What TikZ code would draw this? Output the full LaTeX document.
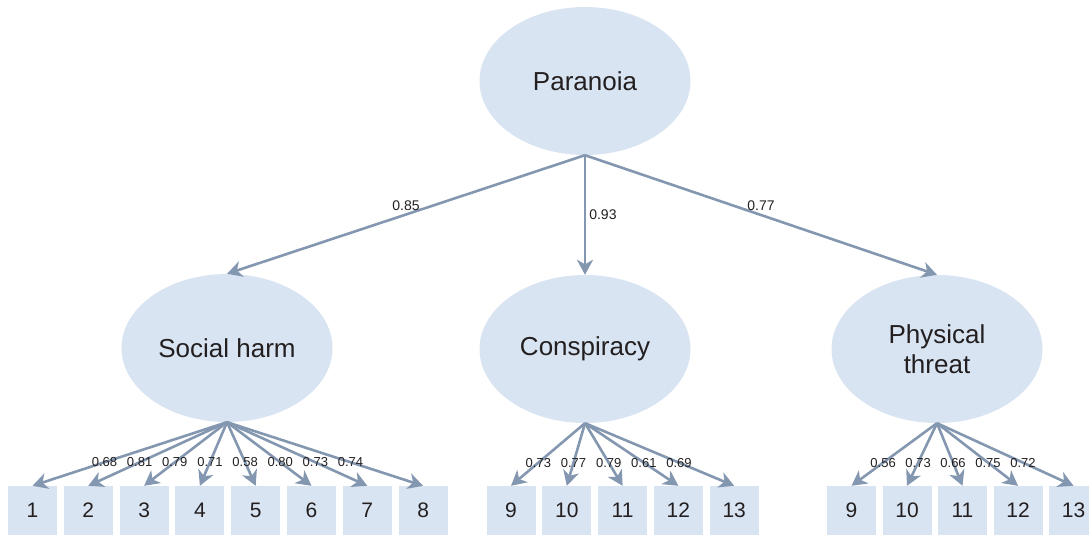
\documentclass[tikz,border=0pt]{standalone}
\usepackage{fontspec}
\setmainfont{Liberation Sans}
\usetikzlibrary{shapes.geometric,arrows.meta,calc}
\definecolor{fillc}{HTML}{D9E4F2}
\definecolor{linec}{HTML}{8497B0}
\definecolor{txtc}{HTML}{231F20}
\begin{document}
\begin{tikzpicture}[x=1pt,y=-1pt,
  latent/.style={ellipse,fill=fillc,minimum width=211pt,minimum height=148pt,inner sep=0pt,text=txtc,font=\fontsize{26}{30}\selectfont,align=center},
  item/.style={rectangle,fill=fillc,minimum width=49pt,minimum height=49pt,inner sep=0pt,text=txtc,font=\fontsize{21}{25}\selectfont},
  loading/.style={draw=linec,line width=2.6pt,-{Stealth[length=15pt,width=16pt,inset=4.5pt]}},
  coef/.style={font=\fontsize{13}{15}\selectfont,text=txtc,inner sep=1pt},
  topcoef/.style={font=\fontsize{14}{16}\selectfont,text=txtc,inner sep=3pt},
]
\useasboundingbox (0,0) rectangle (1089,535);
\clip (0,0) rectangle (1089,535);

% latent factors
\node[latent] (P) at (585,81) {Paranoia};
\node[latent] (S) at (227,348) {Social harm};
\node[latent] (C) at (585,349) {Conspiracy};
\node[latent] (T) at (937,349) {Physical\\threat};

% items
\foreach \i [count=\k from 0] in {1,...,8}
  \node[item] (s\i) at ({32.5+55.8*\k},510.5) {\i};
\foreach \i [count=\k from 0] in {9,...,13}
  \node[item] (c\i) at ({511+55.8*\k},510.5) {\i};
\foreach \i [count=\k from 0] in {9,...,13}
  \node[item] (t\i) at ({851.5+55.5*\k},510.5) {\i};

% second-order loadings
\draw[loading] (P.south) -- (S.north) node[topcoef,pos=0.5,above] {0.85};
\draw[loading] (P.south) -- (C.north) node[topcoef,pos=0.5,right] {0.93};
\draw[loading] (P.south) -- (T.north) node[topcoef,pos=0.5,above] {0.77};

% first-order loadings
\foreach \i/\v in {1/0.68,2/0.81,3/0.79,4/0.71,5/0.58,6/0.80,7/0.73,8/0.74}
  \draw[loading] (S.south) -- (s\i.north) node[coef,pos=0.63] {\v};
\foreach \i/\v in {9/0.73,10/0.77,11/0.79,12/0.61,13/0.69}
  \draw[loading] (C.south) -- (c\i.north) node[coef,pos=0.63] {\v};
\foreach \i/\v in {9/0.56,10/0.73,11/0.66,12/0.75,13/0.72}
  \draw[loading] (T.south) -- (t\i.north) node[coef,pos=0.63] {\v};
\end{tikzpicture}
\end{document}
